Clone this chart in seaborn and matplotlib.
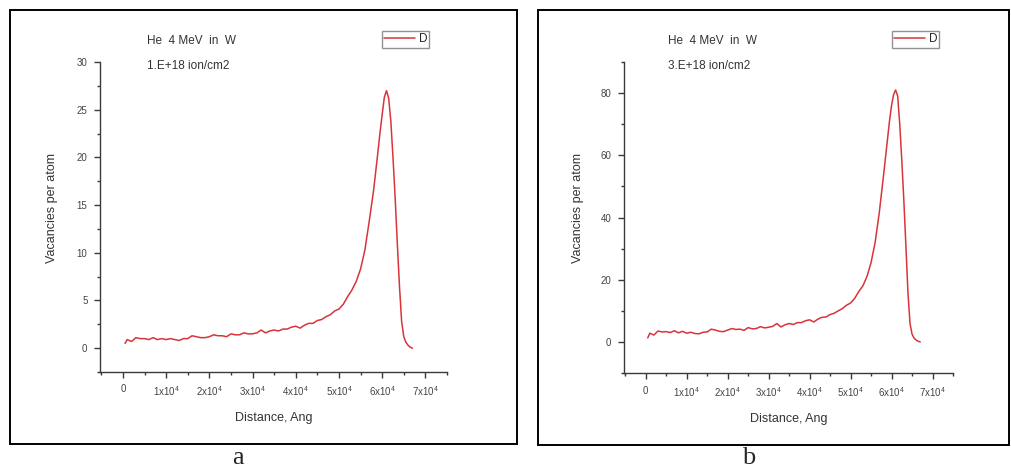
import numpy as np
import pandas as pd
import seaborn as sns
import matplotlib
matplotlib.use("Agg")
import matplotlib.pyplot as plt
from matplotlib.ticker import MultipleLocator, FuncFormatter
from matplotlib.patches import Rectangle

# depth bins (Angstrom)
depth = [500, 1000, 2000, 3000, 4000, 5000, 6000, 7000, 8000, 9000,
         10000, 11000, 12000, 13000, 14000, 15000, 16000, 17000, 18000, 19000,
         20000, 21000, 22000, 23000, 24000, 25000, 26000, 27000, 28000, 29000,
         30000, 31000, 32000, 33000, 34000, 35000, 36000, 37000, 38000, 39000,
         40000, 41000, 42000, 43000, 44000, 45000, 46000, 47000, 48000, 49000,
         50000, 51000, 52000, 53000, 54000, 55000, 56000, 57000, 58000,
         59000, 59500, 60000, 60500, 61000, 61500, 62000, 62500, 63000,
         63500, 64000, 64500, 65000, 65500, 66000, 66500, 67000]

# vacancies per atom, 1.E+18 ion/cm2
dpa_a = [0.5, 0.9, 0.7, 1.1, 1.0, 1.0, 0.9, 1.1, 0.9, 1.0,
         0.9, 1.0, 0.9, 0.8, 1.0, 1.0, 1.3, 1.2, 1.1, 1.1,
         1.2, 1.4, 1.3, 1.3, 1.2, 1.5, 1.4, 1.4, 1.6, 1.5,
         1.5, 1.6, 1.9, 1.6, 1.8, 1.9, 1.8, 2.0, 2.0, 2.2,
         2.3, 2.1, 2.4, 2.6, 2.6, 2.9, 3.0, 3.3, 3.5, 3.9,
         4.1, 4.6, 5.4, 6.1, 7.0, 8.3, 10.3, 13.3, 16.5,
         20.5, 22.6, 24.5, 26.3, 27.0, 26.2, 23.8, 20.0, 15.8,
         11.0, 6.5, 2.8, 1.2, 0.6, 0.3, 0.1, 0.0]

# vacancies per atom, 3.E+18 ion/cm2
dpa_b = [1.3, 2.8, 2.2, 3.5, 3.2, 3.3, 3.0, 3.6, 2.9, 3.4,
         2.8, 3.1, 2.7, 2.6, 3.1, 3.2, 4.1, 3.8, 3.4, 3.3,
         3.8, 4.3, 4.0, 4.1, 3.7, 4.6, 4.2, 4.3, 4.9, 4.5,
         4.7, 5.0, 5.9, 4.8, 5.5, 5.9, 5.6, 6.2, 6.2, 6.8,
         7.1, 6.4, 7.3, 7.9, 8.0, 8.8, 9.2, 10.0, 10.7, 11.8,
         12.5, 14.0, 16.2, 18.0, 21.0, 25.5, 32.0, 41.5, 53.0,
         65.0, 71.0, 76.0, 79.5, 81.0, 79.0, 70.0, 58.5, 45.5,
         31.0, 16.0, 6.0, 2.5, 1.2, 0.6, 0.2, 0.0]

fluences = ["1.E+18 ion/cm2", "3.E+18 ion/cm2"]
captions = ["a", "b"]

sns.set_style("ticks")
plt.rcParams['font.family'] = ['Liberation Sans', 'DejaVu Sans']
plt.rcParams['mathtext.fontset'] = 'custom'
plt.rcParams['mathtext.rm'] = 'Liberation Sans'
plt.rcParams['mathtext.it'] = 'Liberation Sans'

fig = plt.figure(figsize=(10.11, 4.71), dpi=100)

gray = "#3a3a3a"
red = "#d8343a"


def xfmt(v, pos):
    if abs(v) < 1:
        return "0"
    return "%dx10$^{\\mathrm{4}}$" % round(v / 1e4)


def panel(rect, frame, values, fluence, caption, ylim, ymaj, ymin, text_x, leg_x):
    ax = fig.add_axes(rect)
    df = pd.DataFrame({"Distance": depth, "Vacancies": values})
    sns.lineplot(data=df, x="Distance", y="Vacancies", ax=ax, color=red,
                 linewidth=1.1, label="D", legend=False)
    ax.set_xlim(-5300, 75000)
    ax.set_ylim(*ylim)
    ax.xaxis.set_major_locator(MultipleLocator(10000))
    ax.xaxis.set_minor_locator(MultipleLocator(5000))
    ax.yaxis.set_major_locator(MultipleLocator(ymaj))
    ax.yaxis.set_minor_locator(MultipleLocator(ymin))
    ax.xaxis.set_major_formatter(FuncFormatter(xfmt))
    sns.despine(ax=ax)
    for s in ["left", "bottom"]:
        ax.spines[s].set_color(gray)
        ax.spines[s].set_linewidth(1.0)
    ax.tick_params(which="major", direction="out", length=4, width=1.0,
                   color=gray, labelsize=7, labelcolor="#444444", pad=5)
    ax.tick_params(which="minor", direction="out", length=2.5, width=1.0, color=gray)
    ax.set_xlabel("Distance, Ang", fontsize=9, color="#333333")
    ax.set_ylabel("Vacancies per atom", fontsize=9, color="#333333")
    ax.xaxis.set_label_coords(0.5, -0.13)
    ax.yaxis.set_label_coords(-0.122, 0.53)

    fig.text(text_x, 1 - 41 / 471, "He  4 MeV  in  W", fontsize=8.5,
             color="#333333", va="center")
    fig.text(text_x, 1 - 66 / 471, fluence, fontsize=8.5,
             color="#333333", va="center")

    fig.legend(handles=ax.get_lines()[:1], labels=["D"], loc="center left",
               bbox_to_anchor=(leg_x, 1 - 39.5 / 471), fontsize=8.5,
               frameon=True, fancybox=False, edgecolor="#777777",
               handlelength=2.6, handletextpad=0.3, borderpad=0.2,
               borderaxespad=0)

    fig.patches.append(Rectangle((frame[0], frame[1]), frame[2], frame[3],
                                 transform=fig.transFigure, fill=False,
                                 edgecolor="black", linewidth=1.4))
    fig.text(frame[0] + frame[2] / 2 - 0.025, 0.027, caption, fontsize=19,
             family="Liberation Serif", ha="center", va="center")
    return ax


panel([100 / 1011, 1 - 372 / 471, 347 / 1011, 310 / 471],
      (10 / 1011, 1 - 444 / 471, 507 / 1011, 434 / 471),
      dpa_a, fluences[0], captions[0], (-2.5, 30), 5, 2.5, 147 / 1011, 382 / 1011)

panel([624 / 1011, 1 - 373 / 471, 329 / 1011, 311 / 471],
      (538 / 1011, 1 - 445 / 471, 471 / 1011, 435 / 471),
      dpa_b, fluences[1], captions[1], (-10, 90), 20, 10, 668 / 1011, 892 / 1011)

fig.savefig("out.png", dpi=100, facecolor="white")
